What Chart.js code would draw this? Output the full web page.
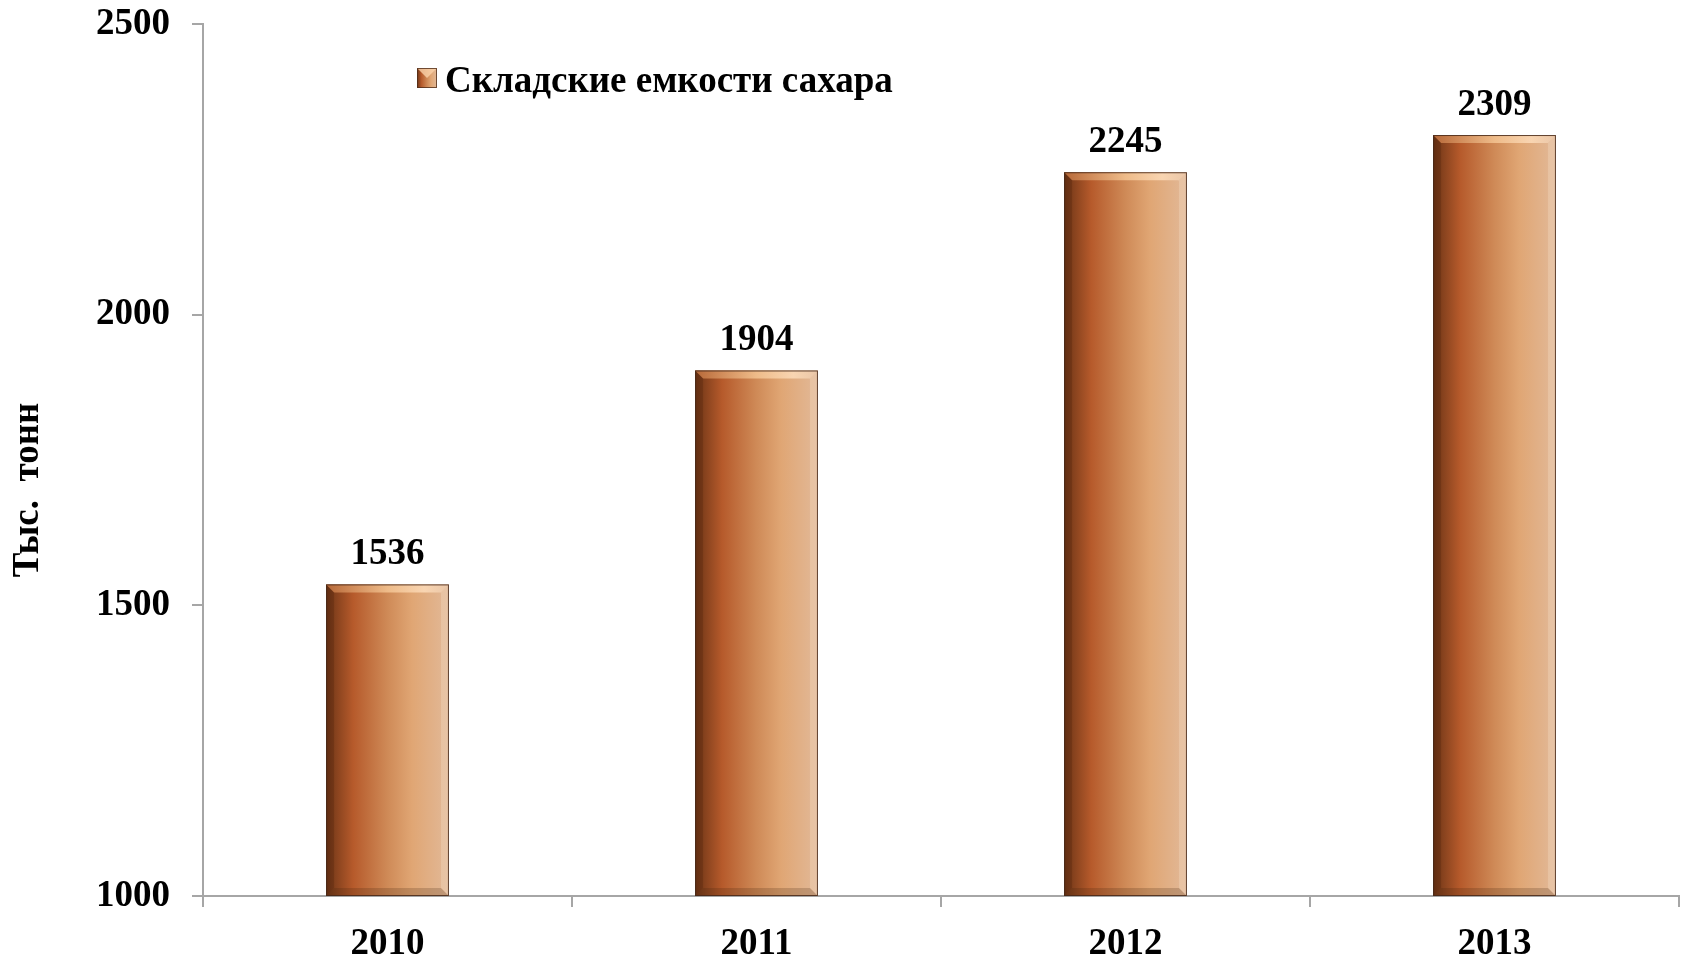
<!DOCTYPE html>
<html>
<head>
<meta charset="utf-8">
<script src="https://cdn.jsdelivr.net/npm/chart.js@4.4.1/dist/chart.umd.min.js"></script>
<style>
  html, body { margin: 0; padding: 0; background: #ffffff; }
  #wrap { width: 1686px; height: 957px; position: relative; }
</style>
</head>
<body>
<div id="wrap"><canvas id="chart-sugar"></canvas></div>
<script>
// Складские емкости сахара, тыс. тонн
const years = ['2010', '2011', '2012', '2013'];
const storage = [1536, 1904, 2245, 2309];
const seriesLabel = 'Складские емкости сахара';
const axisTitle = 'Тыс.  тонн';
const yMin = 1000;
const yMax = 2500;
const yStep = 500;

const fontFace = "'Liberation Serif', 'Times New Roman', serif";
const axisColor = '#a6a6a6';
const BAR_PCT = 0.333;

// horizontal copper gradient across one bar
function copperGradient(ctx, x0, x1) {
    const g = ctx.createLinearGradient(x0, 0, x1, 0);
    g.addColorStop(0, '#6b3416');
    g.addColorStop(0.22, '#b65a2b');
    g.addColorStop(0.5, '#cf8a57');
    g.addColorStop(0.7, '#e0a674');
    g.addColorStop(1, '#e2b998');
    return g;
}

// bevel on bars + value labels
const barDecor = {
    id: 'barDecor',
    afterDatasetsDraw(chart) {
        const ctx = chart.ctx;
        const meta = chart.getDatasetMeta(0);
        const bottom = chart.chartArea.bottom;
        ctx.save();
        meta.data.forEach((bar, i) => {
            const x0 = bar.x - bar.width / 2;
            const x1 = bar.x + bar.width / 2;
            const y0 = bar.y;
            const yb = Math.min(bar.base, bottom);
            const b = 8;
            // top bevel
            const g = ctx.createLinearGradient(x0, 0, x1, 0);
            g.addColorStop(0, 'rgba(190,110,60,0.9)');
            g.addColorStop(0.5, 'rgba(240,190,140,0.95)');
            g.addColorStop(0.8, 'rgba(250,215,180,0.95)');
            g.addColorStop(1, 'rgba(235,200,170,0.9)');
            ctx.fillStyle = g;
            ctx.beginPath();
            ctx.moveTo(x0, y0);
            ctx.lineTo(x1, y0);
            ctx.lineTo(x1 - b, y0 + b);
            ctx.lineTo(x0 + b, y0 + b);
            ctx.closePath();
            ctx.fill();
            // side bevels
            ctx.fillStyle = 'rgba(60,25,5,0.22)';
            ctx.beginPath();
            ctx.moveTo(x0, y0);
            ctx.lineTo(x0 + b, y0 + b);
            ctx.lineTo(x0 + b, yb - b);
            ctx.lineTo(x0, yb);
            ctx.closePath();
            ctx.fill();
            ctx.fillStyle = 'rgba(255,240,225,0.22)';
            ctx.beginPath();
            ctx.moveTo(x1, y0);
            ctx.lineTo(x1 - b, y0 + b);
            ctx.lineTo(x1 - b, yb - b);
            ctx.lineTo(x1, yb);
            ctx.closePath();
            ctx.fill();
            ctx.fillStyle = 'rgba(70,35,15,0.22)';
            ctx.beginPath();
            ctx.moveTo(x0, yb);
            ctx.lineTo(x0 + b, yb - b);
            ctx.lineTo(x1 - b, yb - b);
            ctx.lineTo(x1, yb);
            ctx.closePath();
            ctx.fill();
            // outline
            ctx.strokeStyle = 'rgba(70,40,25,0.85)';
            ctx.lineWidth = 1;
            ctx.strokeRect(x0 + 0.5, y0 + 0.5, bar.width - 1, yb - y0 - 1);

            // value label
            ctx.fillStyle = '#000000';
            ctx.font = 'bold 37px ' + fontFace;
            ctx.textAlign = 'center';
            ctx.textBaseline = 'middle';
            ctx.fillText(String(storage[i]), bar.x, y0 - 30);
        });
        ctx.restore();
    }
};

// legend inside the plot area and the rotated axis title
const innerLegend = {
    id: 'innerLegend',
    afterDraw(chart) {
        const ctx = chart.ctx;
        const bx = 417, by = 68, s = 20;
        ctx.save();
        ctx.fillStyle = copperGradient(ctx, bx, bx + s);
        ctx.fillRect(bx, by, s, s);
        ctx.fillStyle = 'rgba(250,210,170,0.8)';
        ctx.beginPath();
        ctx.moveTo(bx, by); ctx.lineTo(bx + s, by); ctx.lineTo(bx + s / 2, by + s / 2); ctx.closePath();
        ctx.fill();
        ctx.strokeStyle = 'rgba(80,45,25,0.8)';
        ctx.lineWidth = 1;
        ctx.strokeRect(bx + 0.5, by + 0.5, s - 1, s - 1);
        ctx.fillStyle = '#000000';
        ctx.font = 'bold 37px ' + fontFace;
        ctx.textAlign = 'left';
        ctx.textBaseline = 'middle';
        ctx.fillText(chart.data.datasets[0].label, bx + s + 8, by + s / 2 + 4);

        // y axis title, rotated
        ctx.translate(28, 490);
        ctx.rotate(-Math.PI / 2);
        ctx.textAlign = 'center';
        ctx.fillText(axisTitle, 0, 0);
        ctx.restore();
    }
};

function initSugarChart() {
    const canvas = document.getElementById('chart-sugar');
    const ctx = canvas.getContext('2d');
    new Chart(ctx, {
        type: 'bar',
        data: {
            labels: years,
            datasets: [{
                label: seriesLabel,
                data: storage,
                barPercentage: BAR_PCT,
                categoryPercentage: 1.0,
                borderWidth: 0,
                backgroundColor: (c) => {
                    const chart = c.chart;
                    const xs = chart.scales.x;
                    if (!xs || !chart.chartArea) return '#b65a2b';
                    const cx = xs.getPixelForValue(c.dataIndex);
                    const w = xs.width / years.length * BAR_PCT;
                    return copperGradient(chart.ctx, cx - w / 2, cx + w / 2);
                }
            }]
        },
        options: {
            responsive: true,
            maintainAspectRatio: false,
            animation: false,
            layout: { padding: { top: 24, right: 7, left: 0, bottom: 0 } },
            plugins: {
                legend: { display: false },
                tooltip: { enabled: false }
            },
            scales: {
                x: {
                    offset: true,
                    grid: {
                        display: true,
                        drawOnChartArea: false,
                        offset: true,
                        color: axisColor,
                        lineWidth: 2,
                        tickLength: 11
                    },
                    border: { display: true, color: axisColor, width: 2 },
                    ticks: {
                        color: '#000000',
                        padding: 15,
                        font: { family: fontFace, size: 37, weight: 'bold' }
                    },
                    afterFit: (scale) => {
                        scale.height = 61;
                        scale.paddingLeft = 0;
                        scale.paddingRight = 0;
                    }
                },
                y: {
                    min: yMin,
                    max: yMax,
                    grid: {
                        display: true,
                        drawOnChartArea: false,
                        color: axisColor,
                        lineWidth: 2,
                        tickLength: 11
                    },
                    border: { display: true, color: axisColor, width: 2 },
                    ticks: {
                        stepSize: yStep,
                        color: '#000000',
                        padding: 22,
                        font: { family: fontFace, size: 37, weight: 'bold' },
                        callback: (v) => String(v)
                    },
                    afterFit: (scale) => {
                        scale.width = 203;
                        scale.paddingTop = 0;
                        scale.paddingBottom = 0;
                    }
                }
            }
        },
        plugins: [barDecor, innerLegend]
    });
}

window.addEventListener('DOMContentLoaded', () => {
    initSugarChart();
});
</script>
</body>
</html>
